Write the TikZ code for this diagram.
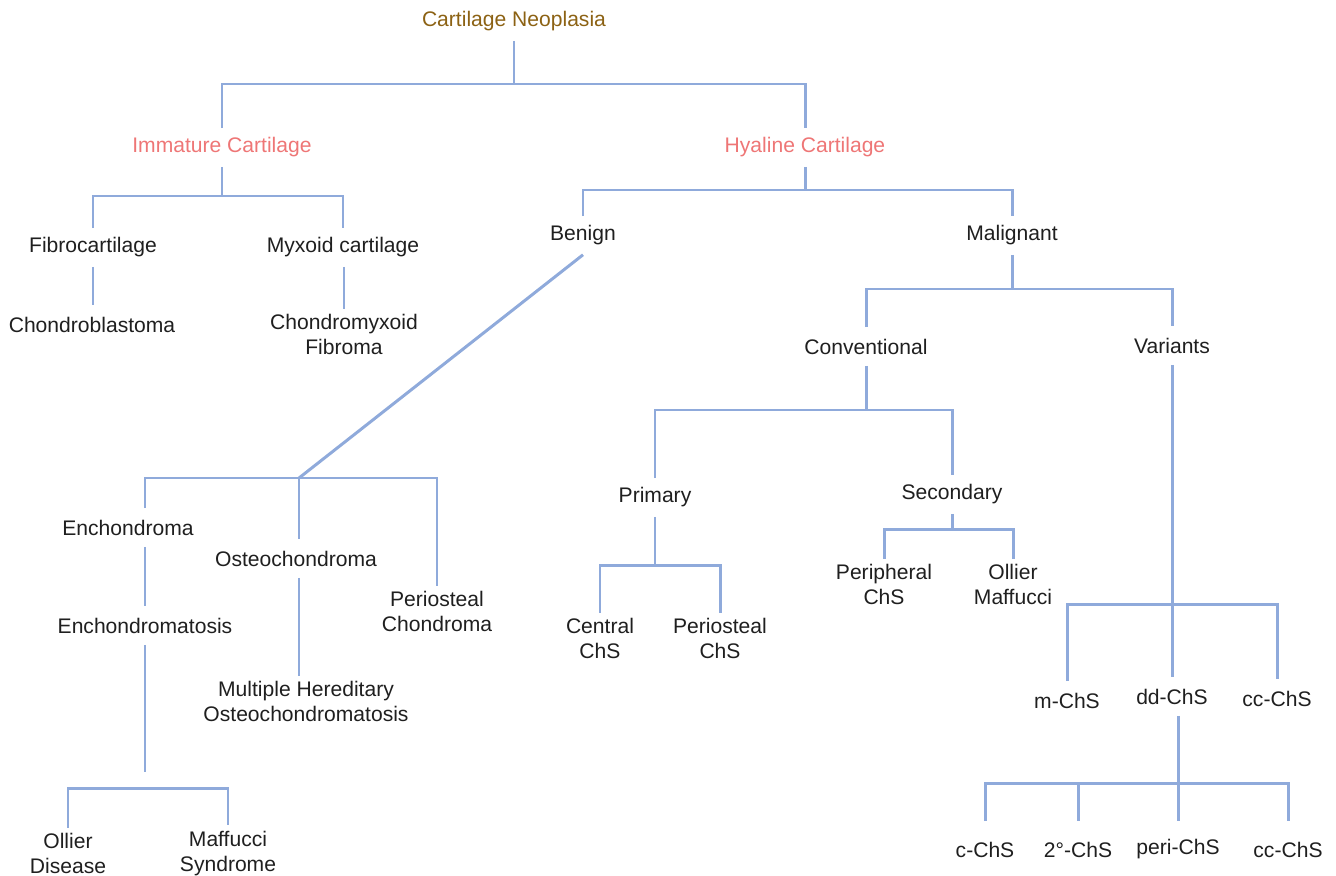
\documentclass[tikz,border=0pt]{standalone}
\usepackage{fontspec}
\setmainfont{Liberation Sans}
\definecolor{linkblue}{RGB}{143,170,219}
\definecolor{rootgold}{RGB}{140,98,20}
\definecolor{subpink}{RGB}{238,118,118}
\begin{document}
\begin{tikzpicture}[x=0.02cm,y=-0.02cm,
	term/.style={ align=center, inner xsep=2pt, inner ysep=3pt, minimum height=21.6pt, yshift=-1.4pt, text=black!88, font=\fontsize{12pt}{14.3pt}\selectfont },
	head/.style={ term, text=rootgold },
	group/.style={ term, text=subpink },
	deep/.style={ term, minimum height=32pt },
	link/.style={ draw=linkblue, line width=1.7pt }
]
\useasboundingbox (0,0) rectangle (1336,876);

\node at (514,19) (root) [head] {Cartilage Neoplasia};
\node at (222,145) (imm) [group] {Immature Cartilage};
\node at (805,145) (hya) [group] {Hyaline Cartilage};
\coordinate (b0) at (514,84);
\draw[link] (root) -- (b0);
\draw[link] (imm) |- (b0) -| (hya);

\node at (93,245) (fib) [term] {Fibrocartilage};
\node at (343,245) (myx) [term] {Myxoid cartilage};
\node at (92,322) (cbl) [term] {Chondroblastoma};
\node at (344,332) (cmf) [term] {Chondromyxoid\\Fibroma};
\coordinate (b1) at (222,196);
\draw[link] (imm) -- (b1);
\draw[link] (fib) |- (b1) -| (myx);
\draw[link] (fib) -- (fib |- cbl.north);
\draw[link] (cmf.north |- myx.south) -- (cmf);

\node at (583,233) (ben) [term] {Benign};
\node at (1012,233) (mal) [term] {Malignant};
\coordinate (b2) at (805,190);
\draw[link] (hya) -- (b2);
\draw[link] (ben) |- (b2) -| (mal);

\node at (128,525) (enc) [term] {Enchondroma};
\node at (296,556) (ost) [term] {Osteochondroma};
\node at (437,609) (per) [term] {Periosteal\\Chondroma};
\node at (145,623) (encm) [term] {Enchondromatosis};
\node at (306,699) (mho) [term] {Multiple Hereditary\\Osteochondromatosis};
\node at (68,851) (oll) [term] {Ollier\\Disease};
\node at (228,851) (maf) [term] {Maffucci\\Syndrome};
\coordinate (b3) at (299,478);
\draw[link] (ben.south) -- (b3);
\draw[link] (enc.north -| encm) |- (b3) -| (per);
\draw[link] (b3) -- (b3 |- ost.north);
\draw[link] (enc.south -| encm) -- (encm);
\coordinate (encend) at (145,772);
\draw[link] (encm) -- (encend);
\draw[link] (ost.south -| b3) -- (mho.north -| b3);
\coordinate (b4) at (148,788);
\draw[link] (oll) |- (b4) -| (maf);

\node at (866,344) (con) [term] {Conventional};
\node at (1172,343) (var) [term] {Variants};
\coordinate (b5) at (1012,289);
\draw[link] (mal) -- (b5);
\draw[link] (con) |- (b5) -| (var);

\node at (655,495) (pri) [term] {Primary};
\node at (952,492) (sec) [term] {Secondary};
\coordinate (b6) at (866,410);
\draw[link] (con) -- (b6);
\draw[link] (pri) |- (b6) -| (sec);

\node at (600,636) (cen) [term] {Central\\ChS};
\node at (720,636) (pch) [term] {Periosteal\\ChS};
\coordinate (b7) at (655,565);
\draw[link] (pri) -- (b7);
\draw[link] (cen) |- (b7) -| (pch);

\node at (884,582) (pph) [term] {Peripheral\\ChS};
\node at (1013,582) (olm) [term] {Ollier\\Maffucci};
\coordinate (b8) at (952,529);
\draw[link] (sec) -- (b8);
\draw[link] (pph) |- (b8) -| (olm);

\node at (1067,698) (mchs) [term] {m-ChS};
\node at (1172,694) (ddchs) [term] {dd-ChS};
\node at (1277,696) (ccchs) [term] {cc-ChS};
\coordinate (b9) at (1172,604);
\draw[link] (var) -- (ddchs);
\draw[link] (mchs) |- (b9) -| (ccchs);

\node at (985,847) (cchs) [deep] {c-ChS};
\node at (1078,847) (twochs) [deep] {2°-ChS};
\node at (1178,847) (perichs) [deep] {peri-ChS};
\node at (1288,847) (cctwo) [deep] {cc-ChS};
\coordinate (b10) at (1178,783);
\draw[link] (ddchs.south -| b10) -- (b10);
\draw[link] (cchs) |- (b10) -| (cctwo);
\foreach \p in {twochs,perichs} \draw[link] (b10 -| \p) -- (\p);

\end{tikzpicture}
\end{document}
